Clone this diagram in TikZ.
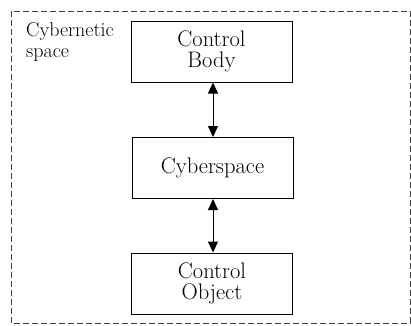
\documentclass[tikz,border=0pt]{standalone}
\usepackage{fontspec}
\usetikzlibrary{arrows.meta}
\begin{document}
\begin{tikzpicture}[x=1pt,y=-1pt,
  blk/.style={draw, line width=1pt, minimum width=161pt, minimum height=61pt, align=center, font=\fontsize{22.5}{21}\selectfont, inner sep=0pt},
  link/.style={line width=1pt, {Triangle[length=11pt,width=10pt]}-{Triangle[length=11pt,width=10pt]}}]
\useasboundingbox (0,0) rectangle (411,325);
\draw[line width=0.9pt, dash pattern=on 6pt off 3pt, black!75] (11,11) rectangle (410,323);
\node[anchor=north west, align=left, font=\fontsize{20}{21}\selectfont, inner sep=0pt] (lab) at (26,22) {Cybernetic\\space};
\node[blk] (body) at (211.5,51.5) {Control\\Body};
\node[blk] (cyber) at (212.5,168) {Cyberspace};
\node[blk] (obj) at (212,283.5) {Control\\Object};
\draw[link] (body.south -| 213,0) -- (cyber.north -| 213,0);
\draw[link] (cyber.south -| 213,0) -- (obj.north -| 213,0);
\end{tikzpicture}
\end{document}
